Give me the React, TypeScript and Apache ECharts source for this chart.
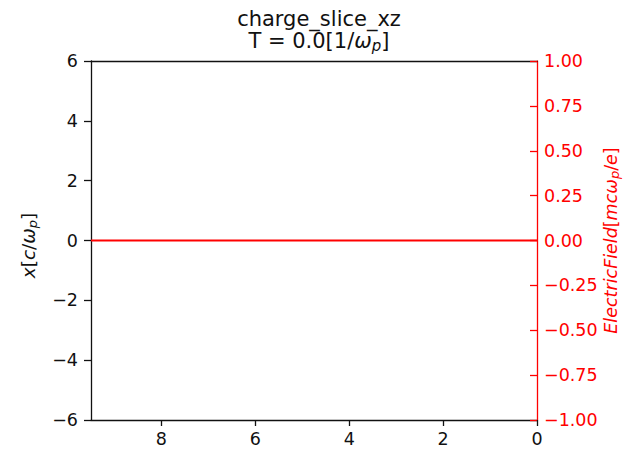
import React, { useEffect, useRef } from "react";
import * as echarts from "echarts";

const titleLine1 = "charge_slice_xz";
const timeValue = "0.0";
const positions = [0, 2, 4, 6, 8, 9.5];
const fieldValues = [0, 0, 0, 0, 0, 0];
const xTicks = [0, 2, 4, 6, 8];
const leftTicks = [-6, -4, -2, 0, 2, 4, 6];
const rightTicks = [-1, -0.75, -0.5, -0.25, 0, 0.25, 0.5, 0.75, 1];

const FONT = "DejaVu Sans";
const FS = 17.5;
const NFS = 18.5;
const SUB = 13;
const TFS = 21;
const RED = "#ff0000";
const INK = "#111";

const minus = (s: string) => s.replace("-", "\u2212");

export default function App() {
  const ref = useRef<HTMLDivElement>(null);
  useEffect(() => {
    const chart = echarts.init(ref.current!, null, { renderer: "svg" });
    chart.setOption({
      animation: false,
      backgroundColor: "#ffffff",
      title: {
        text: "{n|" + titleLine1 + "}\n{n|T = " + timeValue + "[1/}{i|ω}{s|p}{n|]}",
        left: 314,
        textAlign: "center",
        top: 3,
        textStyle: {
          fontFamily: FONT,
          fontSize: TFS,
          fontWeight: "normal",
          color: INK,
          lineHeight: 22,
          rich: {
            n: { fontFamily: FONT, fontSize: TFS, color: INK, lineHeight: 22 },
            i: { fontFamily: FONT, fontSize: TFS, fontStyle: "italic", color: INK, lineHeight: 22 },
            s: { fontFamily: FONT, fontSize: 15, fontStyle: "italic", color: INK, lineHeight: 22, padding: [9, 0, 0, 0] },
          },
        },
      },
      grid: { left: 91, right: 93, top: 61, bottom: 29, outerBoundsMode: "none", containLabel: false },
      xAxis: [
        {
          type: "value",
          inverse: true,
          min: 0,
          max: 9.5,
          position: "bottom",
          axisLine: { show: true, onZero: false, lineStyle: { color: INK, width: 1.3 } },
          axisTick: { show: true, length: 6, customValues: xTicks, lineStyle: { color: INK, width: 1.3 } },
          axisLabel: {
            customValues: xTicks,
            margin: 10,
            fontFamily: FONT,
            fontSize: FS,
            color: INK,
            formatter: (v: number) => minus(String(v)),
          },
          splitLine: { show: false },
        },
        {
          type: "value",
          inverse: true,
          min: 0,
          max: 9.5,
          position: "top",
          axisLine: { show: true, onZero: false, lineStyle: { color: INK, width: 1.3 } },
          axisTick: { show: false },
          axisLabel: { show: false },
          splitLine: { show: false },
        },
      ],
      yAxis: [
        {
          type: "value",
          min: -6,
          max: 6,
          position: "left",
          name: "{i|x}{n|[}{i|c}{n|/}{i|ω}{s|p}{n|]}",
          nameLocation: "middle",
          nameGap: 52,
          nameMoveOverlap: false,
          nameTextStyle: {
            padding: [0, 10, 0, 0],
            rich: {
              n: { fontFamily: FONT, fontSize: NFS, color: INK },
              i: { fontFamily: FONT, fontSize: NFS, fontStyle: "italic", color: INK },
              s: { fontFamily: FONT, fontSize: SUB, fontStyle: "italic", color: INK, padding: [8, 0, 0, 0] },
            },
          },
          axisLine: { show: true, onZero: false, lineStyle: { color: INK, width: 1.3 } },
          axisTick: { show: true, length: 7, customValues: leftTicks, lineStyle: { color: INK, width: 1.3 } },
          axisLabel: {
            customValues: leftTicks,
            margin: 13,
            fontFamily: FONT,
            fontSize: FS,
            color: INK,
            formatter: (v: number) => minus(String(v)),
          },
          splitLine: { show: false },
        },
        {
          type: "value",
          min: -1,
          max: 1,
          position: "right",
          name: "{i|ElectricField}{n|[}{i|mcω}{s|p}{n|/}{i|e}{n|]}",
          nameLocation: "middle",
          nameGap: 63,
          nameRotate: 90,
          nameMoveOverlap: false,
          nameTextStyle: {
            rich: {
              n: { fontFamily: FONT, fontSize: FS, color: RED },
              i: { fontFamily: FONT, fontSize: FS, fontStyle: "italic", color: RED },
              s: { fontFamily: FONT, fontSize: SUB, fontStyle: "italic", color: RED, padding: [8, 0, 0, 0] },
            },
          },
          axisLine: { show: true, onZero: false, lineStyle: { color: RED, width: 1.3 } },
          axisTick: { show: true, inside: true, length: 7, customValues: rightTicks, lineStyle: { color: RED, width: 1.3 } },
          axisLabel: {
            customValues: rightTicks,
            margin: 7,
            fontFamily: FONT,
            fontSize: FS,
            color: RED,
            formatter: (v: number) => minus(v.toFixed(2)),
          },
          splitLine: { show: false },
        },
      ],
      series: [
        {
          type: "line",
          xAxisIndex: 0,
          yAxisIndex: 1,
          data: positions.map((p, i) => [p, fieldValues[i]]),
          showSymbol: false,
          lineStyle: { color: RED, width: 2.2 },
          z: 3,
        },
      ],
    });
    return () => chart.dispose();
  }, []);
  return <div ref={ref} style={{ width: 630, height: 449, position: "absolute", left: 0, top: 0 }} />;
}
